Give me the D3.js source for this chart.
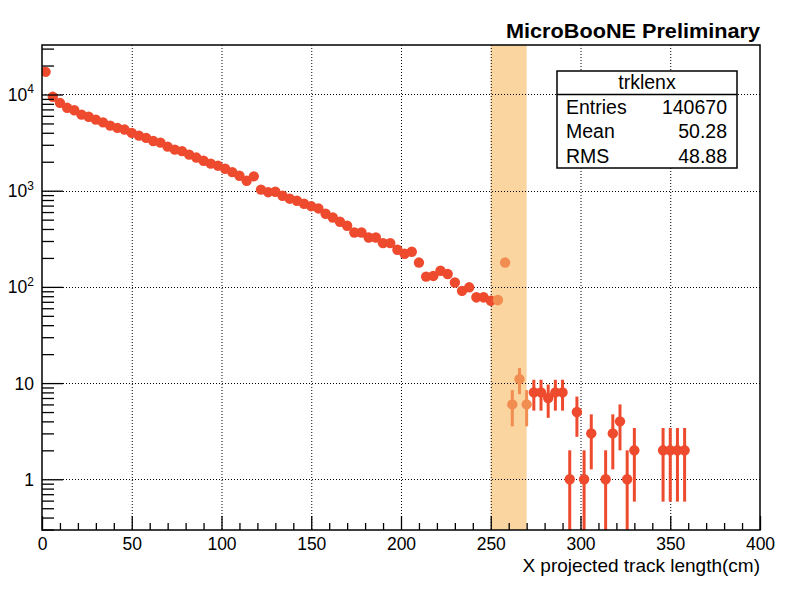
<!DOCTYPE html>
<html>
<head>
<meta charset="utf-8">
<script src="https://cdn.jsdelivr.net/npm/d3@7"></script>
<style>
  body { margin: 0; background: #fff; }
  text { font-family: "Liberation Sans", Arial, Helvetica, sans-serif; fill: #000; }
</style>
</head>
<body>
<script>
// histogram trklenx : 100 bins of 4 cm from 0 to 400
var binLow = 0, binWidth = 4;
var counts = [
  17200, 9460, 8190, 7270, 6860, 6170, 5870, 5480, 5130, 4750,
  4500, 4320, 3990, 3740, 3540, 3280, 3160, 2870, 2670, 2580,
  2370, 2210, 2050, 1910, 1820, 1690, 1560, 1430, 1270, 1410,
  1025, 965, 975, 887, 826, 787, 732, 690, 654, 576,
  527, 475, 432, 368, 368, 326, 326, 285, 285, 243,
  221, 232, 179, 128, 130, 147, 136, 111, 91, 99,
  78, 78, 72, 73, 179, 6, 11, 6, 8, 8,
  7, 8, 8, 1, 5, 1, 3, 0, 1, 3,
  4, 1, 2, 0, 0, 0, 2, 2, 2, 2
];
var band = [250, 270];
var xTicks = [0, 50, 100, 150, 200, 250, 300, 350, 400];
var yTicks = [1, 10, 100, 1000, 10000];
var yTickLabels = [["1", ""], ["10", ""], ["10", "2"], ["10", "3"], ["10", "4"]];
var statNames = ["Entries", "Mean", "RMS"];
var statValues = ["140670", "50.28", "48.88"];

var width = 803, height = 594;
var fLeft = 42, fRight = 760, fTop = 45, fBottom = 530;

var svg = d3.select("body").append("svg")
  .attr("width", width)
  .attr("height", height);

svg.append("rect").attr("width", width).attr("height", height).attr("fill", "#fff");

var x = d3.scaleLinear().domain([0, 400]).range([fLeft, fRight]);
var y = d3.scaleLog().domain([0.297, 32700]).range([fBottom, fTop]);

var bins = counts.map(function(n, i){
  return { c: binLow + binWidth * (i + 0.5), n: n };
}).filter(function(d){ return d.n > 0; });

svg.append("clipPath").attr("id", "frame")
  .append("rect").attr("x", fLeft).attr("y", fTop)
  .attr("width", fRight - fLeft).attr("height", fBottom - fTop);

// highlighted band
svg.append("rect")
  .attr("x", x(band[0])).attr("y", fTop)
  .attr("width", x(band[1]) - x(band[0])).attr("height", fBottom - fTop)
  .attr("fill", "#fad5a0");

// dotted grid
var grid = svg.append("g").attr("stroke", "#000").attr("stroke-width", 1)
  .attr("stroke-dasharray", "1,2");
grid.selectAll(".gx").data(xTicks.slice(1, -1)).enter().append("line")
  .attr("x1", function(d){ return x(d) + 0.5; }).attr("x2", function(d){ return x(d) + 0.5; })
  .attr("y1", fTop).attr("y2", fBottom);
grid.selectAll(".gy").data(yTicks).enter().append("line")
  .attr("y1", function(d){ return Math.round(y(d)) + 0.5; }).attr("y2", function(d){ return Math.round(y(d)) + 0.5; })
  .attr("x1", fLeft).attr("x2", fRight);

// data points with poisson errors
var pts = svg.append("g").attr("clip-path", "url(#frame)");
function colorOf(d){ return (d.c > band[0] && d.c <= band[1]) ? "#f28d52" : "#ee4a2e"; }

var err = pts.selectAll(".err").data(bins).enter().append("g")
  .attr("stroke", colorOf).attr("stroke-width", 3);
err.append("line")
  .attr("x1", function(d){ return x(d.c); }).attr("x2", function(d){ return x(d.c); })
  .attr("y1", function(d){ var lo = d.n - Math.sqrt(d.n); return lo > 0 ? y(lo) : fBottom + 5; })
  .attr("y2", function(d){ return y(d.n + Math.sqrt(d.n)); });
err.append("line")
  .attr("x1", function(d){ return x(d.c - binWidth / 2); })
  .attr("x2", function(d){ return x(d.c + binWidth / 2); })
  .attr("y1", function(d){ return y(d.n); }).attr("y2", function(d){ return y(d.n); });

pts.selectAll(".pt").data(bins).enter().append("circle")
  .attr("cx", function(d){ return x(d.c); })
  .attr("cy", function(d){ return y(d.n); })
  .attr("r", 5.2)
  .attr("fill", colorOf);

// x axis, ticks pointing inside
var xMinor = d3.range(0, 401, 10).filter(function(v){ return v % 50 !== 0; });
svg.append("g").attr("transform", "translate(0," + fBottom + ")")
  .call(d3.axisBottom(x).tickValues(xMinor).tickSize(-7).tickFormat(""))
  .call(function(g){ g.select(".domain").remove(); })
  .selectAll("line").attr("stroke-width", 1.3);
var xAxis = svg.append("g").attr("transform", "translate(0," + fBottom + ")")
  .call(d3.axisBottom(x).tickValues(xTicks).tickSize(-14).tickPadding(8).tickFormat(d3.format("d")));
xAxis.select(".domain").remove();
xAxis.selectAll("line").attr("stroke-width", 1.3);
xAxis.selectAll("text").attr("font-size", 17.5).attr("font-family", "Liberation Sans, Arial, sans-serif").attr("fill", "#000");

// y axis, log ticks
var yMinor = [];
[0.1, 1, 10, 100, 1000, 10000].forEach(function(dec){
  for (var k = 2; k <= 9; k++) {
    var v = dec * k;
    if (v >= y.domain()[0] && v <= y.domain()[1]) yMinor.push(v);
  }
});
svg.append("g").attr("transform", "translate(" + fLeft + ",0)")
  .call(d3.axisLeft(y).tickValues(yMinor).tickSize(-12).tickFormat(""))
  .call(function(g){ g.select(".domain").remove(); })
  .selectAll("line").attr("stroke-width", 1.3);
var yAxis = svg.append("g").attr("transform", "translate(" + fLeft + ",0)")
  .call(d3.axisLeft(y).tickValues(yTicks).tickSize(-21).tickFormat(""));
yAxis.select(".domain").remove();
yAxis.selectAll("line").attr("stroke-width", 1.3);

var yl = svg.selectAll(".ylab").data(yTicks).enter().append("text")
  .attr("x", 34)
  .attr("y", function(d){ return y(d) + 6.5; })
  .attr("text-anchor", "end")
  .attr("font-size", 17.5);
yl.append("tspan").text(function(d, i){ return yTickLabels[i][0]; });
yl.append("tspan").attr("font-size", 12).attr("dy", -7.5)
  .text(function(d, i){ return yTickLabels[i][1]; });

// frame
svg.append("rect")
  .attr("x", fLeft).attr("y", fTop)
  .attr("width", fRight - fLeft).attr("height", fBottom - fTop)
  .attr("fill", "none").attr("stroke", "#000").attr("stroke-width", 1.5);

// titles
svg.append("text")
  .attr("x", fRight).attr("y", 38)
  .attr("text-anchor", "end")
  .attr("font-size", 20).attr("font-weight", "bold")
  .attr("textLength", 254).attr("lengthAdjust", "spacingAndGlyphs")
  .text("MicroBooNE Preliminary");

svg.append("text")
  .attr("x", fRight).attr("y", 572)
  .attr("text-anchor", "end")
  .attr("font-size", 19)
  .text("X projected track length(cm)");

// stats box
var bx = 557, by = 71, bw = 180, bh = 97;
var stats = svg.append("g");
stats.append("rect")
  .attr("x", bx).attr("y", by).attr("width", bw).attr("height", bh)
  .attr("fill", "#fff").attr("stroke", "#000").attr("stroke-width", 1.5);
stats.append("line")
  .attr("x1", bx).attr("x2", bx + bw).attr("y1", 94.5).attr("y2", 94.5)
  .attr("stroke", "#000").attr("stroke-width", 1.5);
stats.append("text")
  .attr("x", bx + bw / 2).attr("y", 89)
  .attr("text-anchor", "middle").attr("font-size", 19.5)
  .text("trklenx");
stats.selectAll(".sn").data(statNames).enter().append("text")
  .attr("x", bx + 9).attr("y", function(d, i){ return 113.5 + 24.7 * i; })
  .attr("font-size", 19.5)
  .text(function(d){ return d; });
stats.selectAll(".sv").data(statValues).enter().append("text")
  .attr("x", bx + bw - 10).attr("y", function(d, i){ return 113.5 + 24.7 * i; })
  .attr("text-anchor", "end")
  .attr("font-size", 19.5)
  .text(function(d){ return d; });
</script>
</body>
</html>
